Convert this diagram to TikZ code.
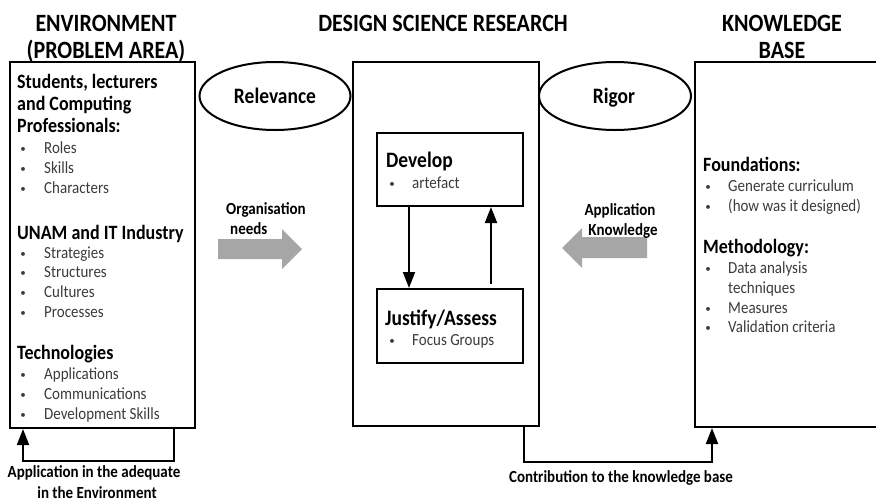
\documentclass[tikz,border=0pt]{standalone}
\usepackage{fontspec}
\usepackage{graphicx}
\setmainfont{Carlito}
\usetikzlibrary{shapes.geometric,arrows.meta}
\definecolor{itemgray}{HTML}{3C3C3C}
\definecolor{arrowgray}{HTML}{A6A6A6}
% text set slightly taller than its natural shape
\newcommand\tall[1]{\scalebox{1}[1.13]{#1}}
\tikzset{
  frame/.style={draw, line width=2pt, rectangle, inner sep=0pt},
  oval/.style={draw, line width=2pt, ellipse, inner sep=0pt},
  title/.style={anchor=base, inner sep=0pt, font=\bfseries\fontsize{22}{27}\selectfont},
  headtxt/.style={anchor=base west, inner sep=0pt, font=\bfseries\fontsize{18}{22}\selectfont},
  bigtxt/.style={inner sep=0pt, font=\bfseries\fontsize{19.5}{23}\selectfont},
  itemtxt/.style={anchor=base west, inner sep=0pt, text=itemgray, font=\fontsize{15}{18}\selectfont},
  dottxt/.style={anchor=base, inner sep=0pt, text=itemgray, font=\fontsize{11}{13}\selectfont},
  lbl/.style={inner sep=0pt, font=\bfseries\fontsize{15}{18}\selectfont},
  link/.style={line width=2pt, -{Triangle[length=16pt,width=12pt]}},
  blockarrow/.style={fill=arrowgray, draw=none}
}
% heading line: name, x, baseline, text
\newcommand\hdline[4]{\node[headtxt] (#1) at (#2,#3) {\tall{#4}};}
% bullet line: name, bullet x, text x, baseline, text
\newcommand\itline[5]{%
  \node[dottxt] (#1dot) at (#2+2,#4-1) {\textbullet};
  \node[itemtxt] (#1) at (#3,#4) {\tall{#5}};}
\begin{document}
\begin{tikzpicture}[x=1pt,y=-1pt]
\clip (0,0) rectangle (876,501);
\fill[white] (0,0) rectangle (876,501);

% column titles
\node[title] (t1a) at (106,31) {\tall{ENVIRONMENT}};
\node[title] (t1b) at (106,58) {\tall{(PROBLEM AREA)}};
\node[title] (t2) at (443,31) {\tall{DESIGN SCIENCE RESEARCH}};
\node[title] (t3a) at (782,31) {\tall{KNOWLEDGE}};
\node[title] (t3b) at (782,58) {\tall{BASE}};

% main frames
\node[frame, minimum width=185pt, minimum height=366pt] (env) at (102.5,245) {};
\node[frame, minimum width=186pt, minimum height=364pt] (dsr) at (446,244) {};
\node[frame, minimum width=205pt, minimum height=365pt] (kb) at (797.5,244.5) {};

% relevance and rigor
\node[oval, minimum width=151pt, minimum height=68pt] (rel) at (275,96) {};
\node[bigtxt, anchor=base] (reltxt) at (275,103) {\tall{Relevance}};
\node[oval, minimum width=152pt, minimum height=68pt] (rig) at (615,96) {};
\node[bigtxt, anchor=base] (rigtxt) at (614,103) {\tall{Rigor}};

% environment contents
\hdline{e1}{17}{88}{Students, lecturers}
\hdline{e2}{17}{110}{and Computing}
\hdline{e3}{17}{132}{Professionals:}
\itline{e4}{21}{44}{153}{Roles}
\itline{e5}{21}{44}{173}{Skills}
\itline{e6}{21}{44}{193}{Characters}
\hdline{e7}{17}{239}{UNAM and IT Industry}
\itline{e8}{21}{44}{258}{Strategies}
\itline{e9}{21}{44}{277}{Structures}
\itline{e10}{21}{44}{297}{Cultures}
\itline{e11}{21}{44}{317}{Processes}
\hdline{e12}{17}{359}{Technologies}
\itline{e13}{21}{44}{379}{Applications}
\itline{e14}{21}{44}{399}{Communications}
\itline{e15}{21}{44}{419}{Development Skills}

% develop / justify cycle
\node[frame, minimum width=146pt, minimum height=73pt] (dev) at (450,169.5) {};
\node[bigtxt, anchor=base west] (devtxt) at (386,167) {\tall{Develop}};
\itline{d1}{390}{412}{188}{artefact}
\node[frame, minimum width=146pt, minimum height=74pt] (jus) at (450,326) {};
\node[bigtxt, anchor=base west] (justxt) at (385,325) {\tall{Justify/Assess}};
\itline{j1}{390}{412}{345}{Focus Groups}
\draw[link] ([xshift=-41pt]dev.south) -- ([xshift=-41pt]jus.north);
\draw[link, shorten <=4pt] ([xshift=41pt]jus.north) -- ([xshift=41pt]dev.south);

% knowledge base contents
\hdline{k1}{703}{171}{Foundations:}
\itline{k2}{706}{728}{191}{Generate curriculum}
\itline{k3}{706}{728}{211}{(how was it designed)}
\hdline{k4}{703}{253}{Methodology:}
\itline{k5}{706}{728}{273}{Data analysis}
\node[itemtxt] (k5b) at (728,293) {\tall{techniques}};
\itline{k6}{706}{728}{313}{Measures}
\itline{k7}{706}{728}{332}{Validation criteria}

% relevance and rigor flows
\fill[blockarrow] (218,239) -- (282,239) -- (282,229) -- (302,249) -- (282,269) -- (282,259) -- (218,259) -- cycle;
\node[lbl, anchor=base west] (org1) at (226,214) {\tall{Organisation}};
\node[lbl, anchor=base west] (org2) at (230,234) {\tall{needs}};
\fill[blockarrow] (647,237) -- (582,237) -- (582,228) -- (562,248) -- (582,268) -- (582,258) -- (647,258) -- cycle;
\node[lbl, anchor=base] (app1) at (620,215) {\tall{Application}};
\node[lbl, anchor=base] (app2) at (623,235) {\tall{Knowledge}};

% feedback loops
\draw[link] ([xshift=-22pt]env.south east) -- ++(0,32) -| ([xshift=14pt]env.south west);
\node[lbl, anchor=base] (fb1) at (94,477) {\tall{Application in the adequate}};
\node[lbl, anchor=base] (fb2) at (97,498) {\tall{in the Environment}};
\draw[link] ([xshift=-16pt]dsr.south east) -- ++(0,35) -| ([xshift=18pt]kb.south west);
\node[lbl, anchor=base] (cb) at (621,482) {\tall{Contribution to the knowledge base}};
\end{tikzpicture}
\end{document}
